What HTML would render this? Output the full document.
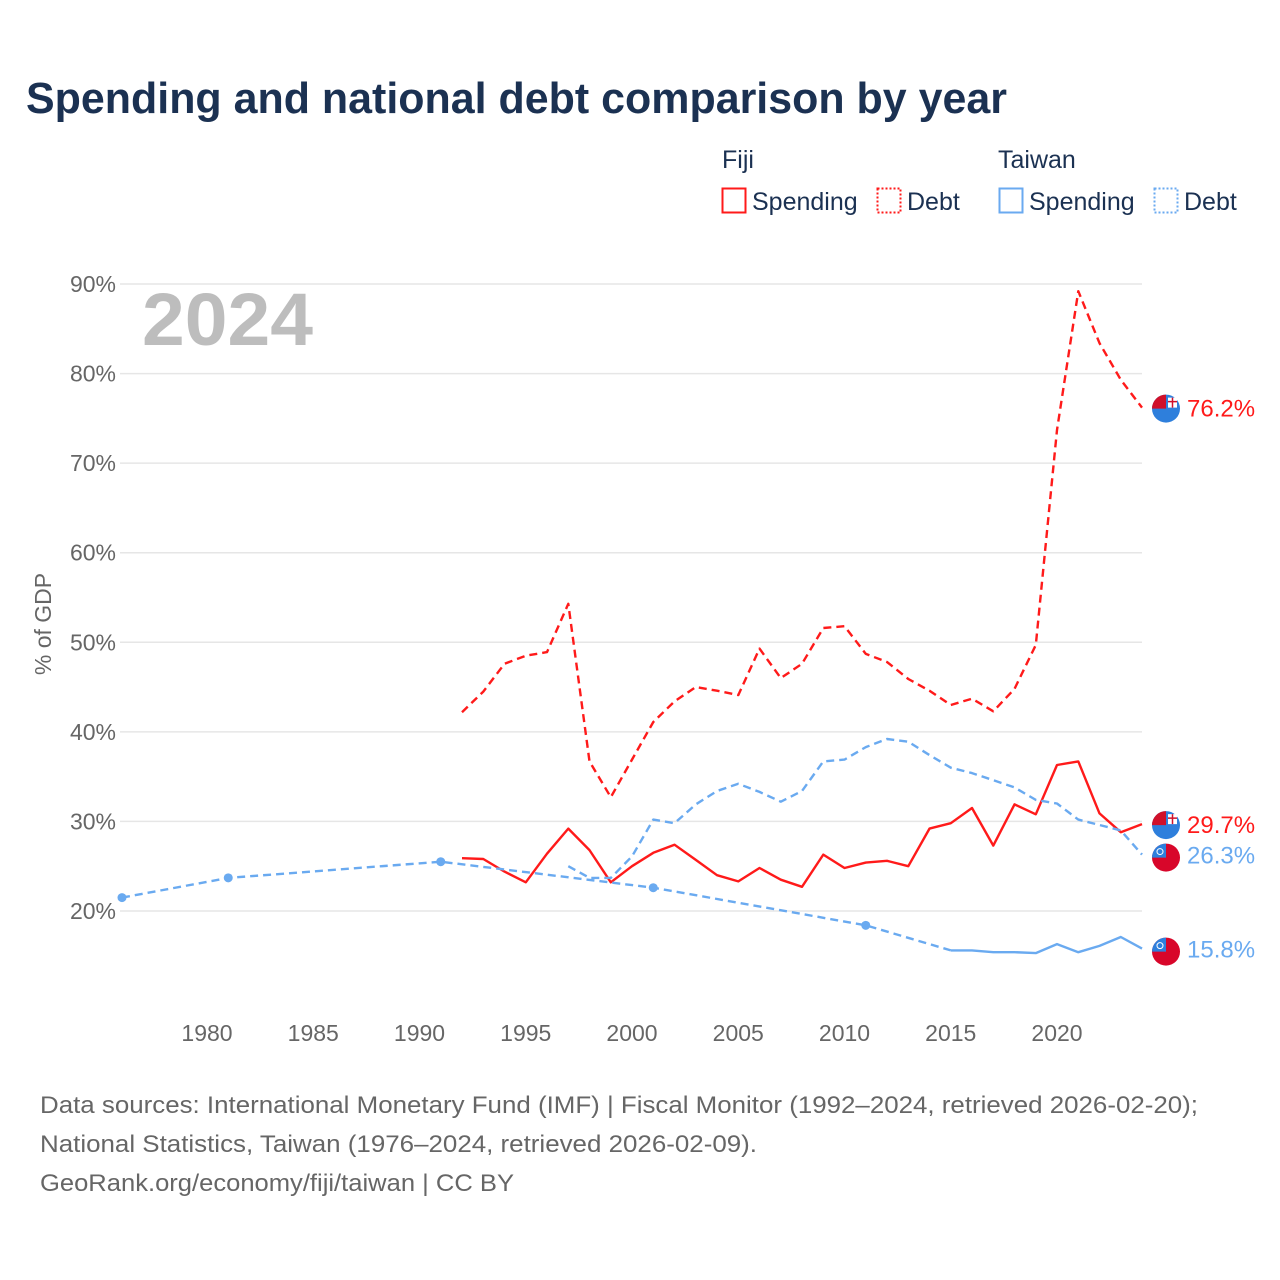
<!DOCTYPE html>
<html><head><meta charset="utf-8"><style>
body{margin:0;background:#fff;width:1280px;height:1280px;overflow:hidden;font-family:"Liberation Sans",sans-serif}
svg{position:absolute;left:0;top:0}
</style></head><body>
<svg id="chart" width="1280" height="1280" xmlns="http://www.w3.org/2000/svg">
<text x="26" y="113" font-size="44" font-weight="bold" fill="#1b3152" textLength="981" lengthAdjust="spacingAndGlyphs">Spending and national debt comparison by year</text>
<g font-size="25" fill="#1b3152">
<text x="722" y="168">Fiji</text>
<text x="998" y="168">Taiwan</text>
<g><rect x="722.5" y="188.5" width="23" height="24" fill="none" stroke="#ff1a1a" stroke-width="2"/><text x="752" y="210">Spending</text></g>
<g><rect x="877.5" y="188.5" width="23" height="24" fill="none" stroke="#ff1a1a" stroke-width="2" stroke-dasharray="2,2"/><text x="907" y="210">Debt</text></g>
<g><rect x="999.5" y="188.5" width="23" height="24" fill="none" stroke="#6aaaf0" stroke-width="2"/><text x="1029" y="210">Spending</text></g>
<g><rect x="1154.5" y="188.5" width="23" height="24" fill="none" stroke="#6aaaf0" stroke-width="2" stroke-dasharray="2,2"/><text x="1184" y="210">Debt</text></g>
</g>
<text x="142" y="345" font-size="74" font-weight="bold" fill="#bdbdbd" textLength="171" lengthAdjust="spacingAndGlyphs">2024</text>
<text transform="translate(51,624) rotate(-90)" text-anchor="middle" font-size="23" fill="#666">% of GDP</text>
<g id="grid"></g><g id="series"></g>
<g font-size="24" fill="#666">
<text x="40" y="1113" textLength="1158" lengthAdjust="spacingAndGlyphs">Data sources: International Monetary Fund (IMF) | Fiscal Monitor (1992–2024, retrieved 2026-02-20);</text>
<text x="40" y="1152" textLength="717" lengthAdjust="spacingAndGlyphs">National Statistics, Taiwan (1976–2024, retrieved 2026-02-09).</text>
<text x="40" y="1191" textLength="474" lengthAdjust="spacingAndGlyphs">GeoRank.org/economy/fiji/taiwan | CC BY</text>
</g>
</svg>
<script>
const yTicks=[20,30,40,50,60,70,80,90];
const xTicks=[1980,1985,1990,1995,2000,2005,2010,2015,2020];
const fijiYears=[1992,1993,1994,1995,1996,1997,1998,1999,2000,2001,2002,2003,2004,2005,2006,2007,2008,2009,2010,2011,2012,2013,2014,2015,2016,2017,2018,2019,2020,2021,2022,2023,2024];
const fijiDebt=[42.2,44.5,47.6,48.5,48.9,54.3,36.7,32.7,36.9,41.1,43.4,45.0,44.6,44.1,49.3,46.0,47.6,51.6,51.8,48.7,47.8,45.9,44.6,43.0,43.7,42.3,44.8,49.7,73.7,89.2,83.4,79.3,76.2];
const fijiSpending=[25.9,25.8,24.4,23.2,26.4,29.2,26.8,23.2,25.0,26.5,27.4,25.7,24.0,23.3,24.8,23.5,22.7,26.3,24.8,25.4,25.6,25.0,29.2,29.8,31.5,27.3,31.9,30.8,36.3,36.7,30.9,28.8,29.7];
const twUpperYears=[1997,1998,1999,2000,2001,2002,2003,2004,2005,2006,2007,2008,2009,2010,2011,2012,2013,2014,2015,2016,2017,2018,2019,2020,2021,2022,2023,2024];
const twUpper=[25.0,23.7,23.7,26.1,30.2,29.8,31.9,33.4,34.2,33.3,32.2,33.4,36.7,36.9,38.3,39.2,38.9,37.4,36.0,35.4,34.6,33.8,32.4,32.0,30.2,29.6,29.0,26.3];
const twLowerYears=[1976,1981,1991,2001,2011,2015,2016,2017,2018,2019,2020,2021,2022,2023,2024];
const twLower=[21.5,23.7,25.5,22.6,18.4,15.6,15.6,15.4,15.4,15.3,16.3,15.4,16.1,17.1,15.8];
const labels=[{v:76.2,t:"76.2%",c:"#ff1a1a",flag:"fiji"},{v:29.7,t:"29.7%",c:"#ff1a1a",flag:"fiji"},{v:26.3,t:"26.3%",c:"#6aaaf0",flag:"tw"},{v:15.8,t:"15.8%",c:"#6aaaf0",flag:"tw"}];
const X=y=>207+(y-1980)*21.25, Y=v=>911-(v-20)*8.957;
const NS="http://www.w3.org/2000/svg";
function mk(t,a,p){const e=document.createElementNS(NS,t);for(const k in a)e.setAttribute(k,a[k]);p.appendChild(e);return e;}
const grid=document.getElementById('grid'), ser=document.getElementById('series');
yTicks.forEach(v=>{
 const l=mk('line',{x1:120,x2:1142,y1:Y(v),y2:Y(v),stroke:'#e6e6e6','stroke-width':1.5},grid);
 
 
 const t=mk('text',{x:116,y:Y(v)+8,'text-anchor':'end','font-size':23,fill:'#666'},grid);t.textContent=v+'%';
 
 
});
xTicks.forEach(y=>{
 const t=mk('text',{x:X(y),y:1041,'text-anchor':'middle','font-size':23,fill:'#666'},grid);t.textContent=y;
 
 
});
function path(ys,vs,opts,name){
 const d=ys.map((y,i)=>(i?'L':'M')+X(y).toFixed(1)+','+Y(vs[i]).toFixed(1)).join('');
 const p=mk('path',Object.assign({d:d,fill:'none','stroke-width':2.4,'stroke-linejoin':'round'},opts),ser);
 
 
}
path(fijiYears,fijiDebt,{stroke:'#ff1a1a','stroke-dasharray':'8,5'},'fiji-debt-line');
path(fijiYears,fijiSpending,{stroke:'#ff1a1a'},'fiji-spending-line');
path(twUpperYears,twUpper,{stroke:'#6aaaf0','stroke-dasharray':'8,5'},'taiwan-debt-line');
const si=twLowerYears.indexOf(2015);
path(twLowerYears.slice(0,si+1),twLower.slice(0,si+1),{stroke:'#6aaaf0','stroke-dasharray':'8,5'},'taiwan-spending-estimated-line');
path(twLowerYears.slice(si),twLower.slice(si),{stroke:'#6aaaf0'},'taiwan-spending-line');
for(let i=0;i<si;i++){const c=mk('circle',{cx:X(twLowerYears[i]),cy:Y(twLower[i]),r:4.5,fill:'#6aaaf0'},ser);
 
 }
labels.forEach(l=>{
 const cy=Y(l.v)+(l.flag==='tw'?3:1), cx=1166;
 const g=mk('g',{},ser);
 
 
 if(l.flag==='fiji'){mk('circle',{cx:cx,cy:cy,r:14,fill:'#2e7fdc'},g);mk('path',{d:`M${cx},${cy}L${cx-14},${cy}A14,14 0 0 1 ${cx},${cy-14}Z`,fill:'#d0102a'},g);mk('rect',{x:cx+2,y:cy-11,width:9,height:10,fill:'#fff'},g);mk('path',{d:`M${cx+6.5},${cy-11}v10M${cx+2},${cy-7}h9`,stroke:'#d0102a','stroke-width':1.5},g);}
 else{mk('circle',{cx:cx,cy:cy,r:14,fill:'#d8062a'},g);mk('path',{d:`M${cx},${cy}L${cx-14},${cy}A14,14 0 0 1 ${cx},${cy-14}Z`,fill:'#2e7fdc'},g);mk('circle',{cx:cx-6,cy:cy-6,r:3,fill:'none',stroke:'#fff','stroke-width':1},g);}
 const t=mk('text',{x:1187,y:Y(l.v)+9,'font-size':24,fill:l.c},g);t.textContent=l.t;
});
</script>
</body></html>
